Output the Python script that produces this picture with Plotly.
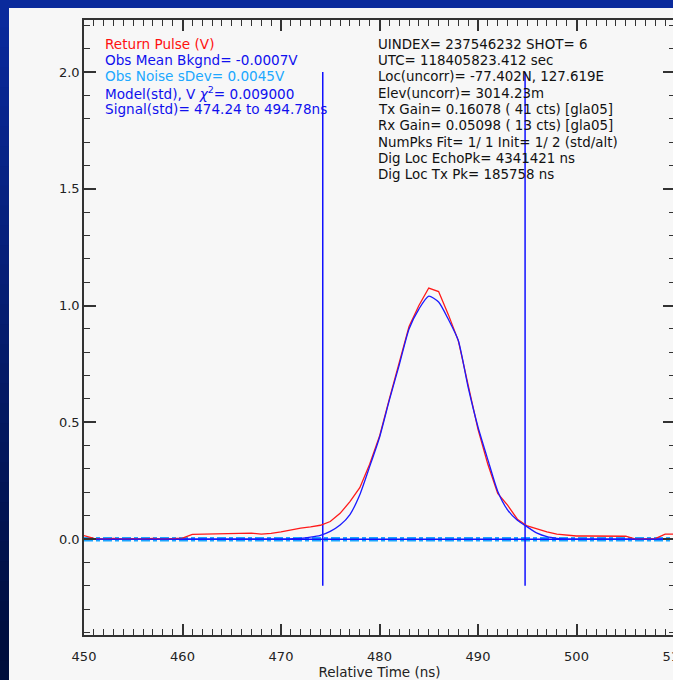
import plotly.graph_objects as go

# ---------------- data ----------------
t_obs = list(range(450, 511))
v_obs = [0.015, 0.003, 0.0, 0.003, 0.0, 0.002, 0.0, 0.003, 0.0, 0.002,
         0.004, 0.020, 0.021, 0.021, 0.021, 0.022, 0.025, 0.025, 0.021, 0.024,
         0.031, 0.040, 0.047, 0.052, 0.059, 0.075, 0.11, 0.16, 0.22, 0.32,
         0.44, 0.60, 0.75, 0.91, 1.00, 1.075, 1.06, 0.96, 0.85, 0.66,
         0.47, 0.32, 0.195, 0.145, 0.085, 0.056, 0.042, 0.031, 0.021, 0.016,
         0.013, 0.013, 0.013, 0.013, 0.013, 0.012, 0.0, 0.0, 0.002, 0.021,
         0.021]

t_mod = list(range(450, 511))
v_mod = [0.0] * 20 + [
    0.0, 0.001, 0.003, 0.008, 0.016, 0.033, 0.06, 0.105, 0.19, 0.31,
    0.435, 0.595, 0.745, 0.90, 0.985, 1.04, 1.015, 0.94, 0.85, 0.65,
    0.48, 0.34, 0.205, 0.125, 0.08, 0.052, 0.025, 0.01, 0.003, 0.0] + [0.0] * 11
v_mod = [v - 0.0007 if v == 0.0 else v for v in v_mod]

bkgnd_mean = -0.0007
noise_sdev = 0.0045
sig_start, sig_end = 474.24, 494.78
marker_top, marker_bot = 2.0, -0.2

left_text = [
    ("Return Pulse (V)", "#ff1010"),
    ("Obs Mean Bkgnd= -0.0007V", "#1010ee"),
    ("Obs Noise sDev= 0.0045V", "#20a8ff"),
    ("Model(std), V <i>χ</i><sup>2</sup>= 0.009000", "#1010ee"),
    ("Signal(std)= 474.24 to 494.78ns", "#1010ee"),
]
right_text = [
    "UINDEX= 237546232 SHOT= 6",
    "UTC= 118405823.412 sec",
    "Loc(uncorr)= -77.402N, 127.619E",
    "Elev(uncorr)= 3014.23m",
    "Tx Gain= 0.16078 ( 41 cts) [gla05]",
    "Rx Gain= 0.05098 ( 13 cts) [gla05]",
    "NumPks Fit= 1/ 1 Init= 1/ 2 (std/alt)",
    "Dig Loc EchoPk= 4341421 ns",
    "Dig Loc Tx Pk= 185758 ns",
]

x_range = [450, 510]
y_range = [-0.411, 2.223]

# ---------------- figure ----------------
W, H = 700, 680
ML, MR, MT, MB = 84, 25, 20, 45
pw, ph = W - ML - MR, H - MT - MB

fig = go.Figure()

# noise band (dashed light blue)
for s in (-1, 1):
    fig.add_trace(go.Scatter(
        x=x_range, y=[bkgnd_mean + s * noise_sdev] * 2, mode="lines",
        line=dict(color="#1aa6ff", width=2.5, dash="9px,3px,4px,3px"),
        hoverinfo="skip", showlegend=False))
# mean background
fig.add_trace(go.Scatter(
    x=x_range, y=[bkgnd_mean] * 2, mode="lines",
    line=dict(color="#1010ff", width=1.5), hoverinfo="skip", showlegend=False))
# signal markers
for xs in (sig_start, sig_end):
    fig.add_trace(go.Scatter(
        x=[xs, xs], y=[marker_top, marker_bot], mode="lines",
        line=dict(color="#1010ff", width=1.5), showlegend=False))
# return pulse
fig.add_trace(go.Scatter(x=t_obs, y=v_obs, mode="lines",
                         line=dict(color="#ff1a1a", width=1.3), showlegend=False))
# model
fig.add_trace(go.Scatter(x=t_mod, y=v_mod, mode="lines",
                         line=dict(color="#1a1aff", width=1.3, shape="spline", smoothing=0.6),
                         showlegend=False))

def px2x(px):
    return x_range[0] + (px - ML) / pw * (x_range[1] - x_range[0])

def px2y(py):
    return y_range[1] - (py - MT) / ph * (y_range[1] - y_range[0])

font_family = "DejaVu Sans"
for i, (txt, col) in enumerate(left_text):
    fig.add_annotation(x=px2x(103), y=px2y(44 + 16.2 * i), text=txt, showarrow=False,
                       xanchor="left", yanchor="middle",
                       font=dict(family=font_family, size=13.6, color=col))
for i, txt in enumerate(right_text):
    fig.add_annotation(x=px2x(376), y=px2y(44 + 16.35 * i), text=txt, showarrow=False,
                       xanchor="left", yanchor="middle",
                       font=dict(family=font_family, size=13.4, color="#111111"))

# outer blue frame (gradient approximation)
shapes = []
def pxr(px0, px1, py0, py1, col):
    return dict(type="rect", xref="paper", yref="paper", layer="above",
                x0=(px0 - ML) / pw, x1=(px1 - ML) / pw,
                y0=(H - MB - py1) / ph, y1=(H - MB - py0) / ph,
                line=dict(width=0), fillcolor=col)
shapes.append(pxr(0, W, 0, 8, "#0a2a9c"))
n = 34
for k in range(n):
    f = k / (n - 1)
    r = int(10 + (0 - 10) * f)
    g = int(42 + (14 - 42) * f)
    b = int(156 + (60 - 156) * f)
    shapes.append(pxr(0, 9, 8 + k * (H - 8) / n, 8 + (k + 1) * (H - 8) / n + 1,
                      f"rgb({r},{g},{b})"))

axis_common = dict(
    showgrid=False, zeroline=False, showline=True, linecolor="#333333", linewidth=1.5,
    mirror="ticks", ticks="inside", tickcolor="#333333", tickwidth=1.5,
    automargin=False,
    tickfont=dict(family=font_family, size=13, color="#222222"),
)

fig.update_layout(
    width=W, height=H,
    margin=dict(l=ML, r=MR, t=MT, b=MB, pad=0),
    paper_bgcolor="#f7f7f7", plot_bgcolor="#f7f7f7",
    shapes=shapes,
    xaxis=dict(range=x_range, tickmode="linear", tick0=450, dtick=10, ticklen=11,
               ticklabelstandoff=9,
               minor=dict(ticks="inside", dtick=1, ticklen=6, tickcolor="#333333", tickwidth=1.2),
               title=dict(text="Relative Time (ns)", standoff=1,
                          font=dict(family=font_family, size=13.5, color="#222222")),
               **axis_common),
    yaxis=dict(range=y_range, tickmode="linear", tick0=0, dtick=0.5, ticklen=12,
               tickformat=".1f",
               minor=dict(ticks="inside", dtick=0.1, ticklen=6, tickcolor="#333333", tickwidth=1.2),
               **axis_common),
)

fig.write_html("out.html",
               post_script="document.body.style.overflow='hidden';"
                           "document.documentElement.style.overflow='hidden';")
